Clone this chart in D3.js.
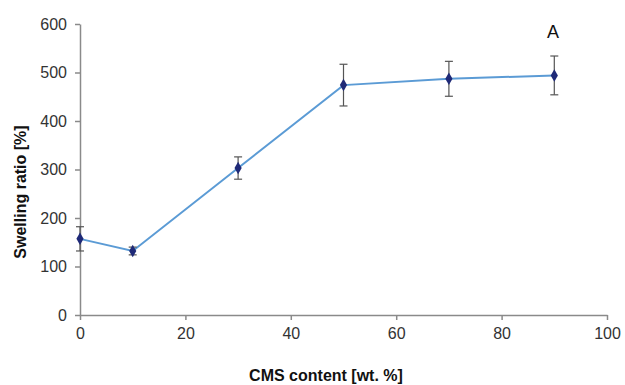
<!DOCTYPE html>
<html><head><meta charset="utf-8">
<script src="https://cdn.jsdelivr.net/npm/d3@7"></script>
<style>body{margin:0;background:#fff}svg{display:block}</style>
</head><body><svg id="c" width="625" height="385"></svg>
<script>
const cmsContent = [0, 10, 30, 50, 70, 90];
const swelling = [157, 132, 303, 474, 487, 494];
const errors = [25, 8, 23, 43, 36, 40];
const xTicks = [0, 20, 40, 60, 80, 100];
const yTicks = [0, 100, 200, 300, 400, 500, 600];

const svg = d3.select("#c");
const x = d3.scaleLinear().domain([0, 100]).range([80, 607]);
const y = d3.scaleLinear().domain([0, 600]).range([315, 24]);

const font = "Liberation Sans, Arial, sans-serif";

const yAxis = svg.append("g").attr("transform", "translate(80,0)")
  .call(d3.axisLeft(y).tickValues(yTicks).tickSize(5).tickPadding(8).tickSizeOuter(0));
const xAxis = svg.append("g").attr("transform", "translate(0,315)")
  .call(d3.axisBottom(x).tickValues(xTicks).tickSize(5).tickPadding(8).tickSizeOuter(0));
[yAxis, xAxis].forEach(a => {
  a.select(".domain").attr("stroke", "#8a8a8a").attr("stroke-width", 1.5);
  a.selectAll(".tick line").attr("stroke", "#8a8a8a").attr("stroke-width", 1.5);
  a.selectAll(".tick text").attr("fill", "#333").style("font-family", font).style("font-size", "16px");
});

const data = cmsContent.map((c, i) => ({c, v: swelling[i], e: errors[i]}));

svg.append("path").datum(data)
  .attr("fill", "none").attr("stroke", "#5b9bd5").attr("stroke-width", 2)
  .attr("d", d3.line().x(d => x(d.c)).y(d => y(d.v)));

const eb = svg.append("g").attr("stroke", "#555").attr("stroke-width", 1.2);
data.forEach(d => {
  eb.append("line").attr("x1", x(d.c)).attr("x2", x(d.c)).attr("y1", y(d.v - d.e)).attr("y2", y(d.v + d.e));
  eb.append("line").attr("x1", x(d.c) - 4).attr("x2", x(d.c) + 4).attr("y1", y(d.v - d.e)).attr("y2", y(d.v - d.e));
  eb.append("line").attr("x1", x(d.c) - 4).attr("x2", x(d.c) + 4).attr("y1", y(d.v + d.e)).attr("y2", y(d.v + d.e));
});

svg.append("g").selectAll("path").data(data).join("path")
  .attr("transform", d => `translate(${x(d.c)},${y(d.v)})`)
  .attr("d", d3.symbol(d3.symbolDiamond, 45))
  .attr("fill", "#1f2a78");

svg.append("text").attr("x", 326).attr("y", 381).attr("text-anchor", "middle")
  .style("font-family", font).style("font-size", "16px").style("font-weight", "bold").attr("fill", "#111")
  .text("CMS content [wt. %]");
svg.append("text").attr("transform", "translate(26,192) rotate(-90)").attr("text-anchor", "middle")
  .style("font-family", font).style("font-size", "16px").style("font-weight", "bold").attr("fill", "#111")
  .text("Swelling ratio [%]");
svg.append("text").attr("x", 553).attr("y", 38).attr("text-anchor", "middle")
  .style("font-family", font).style("font-size", "18px").attr("fill", "#111")
  .text("A");
</script></body></html>
